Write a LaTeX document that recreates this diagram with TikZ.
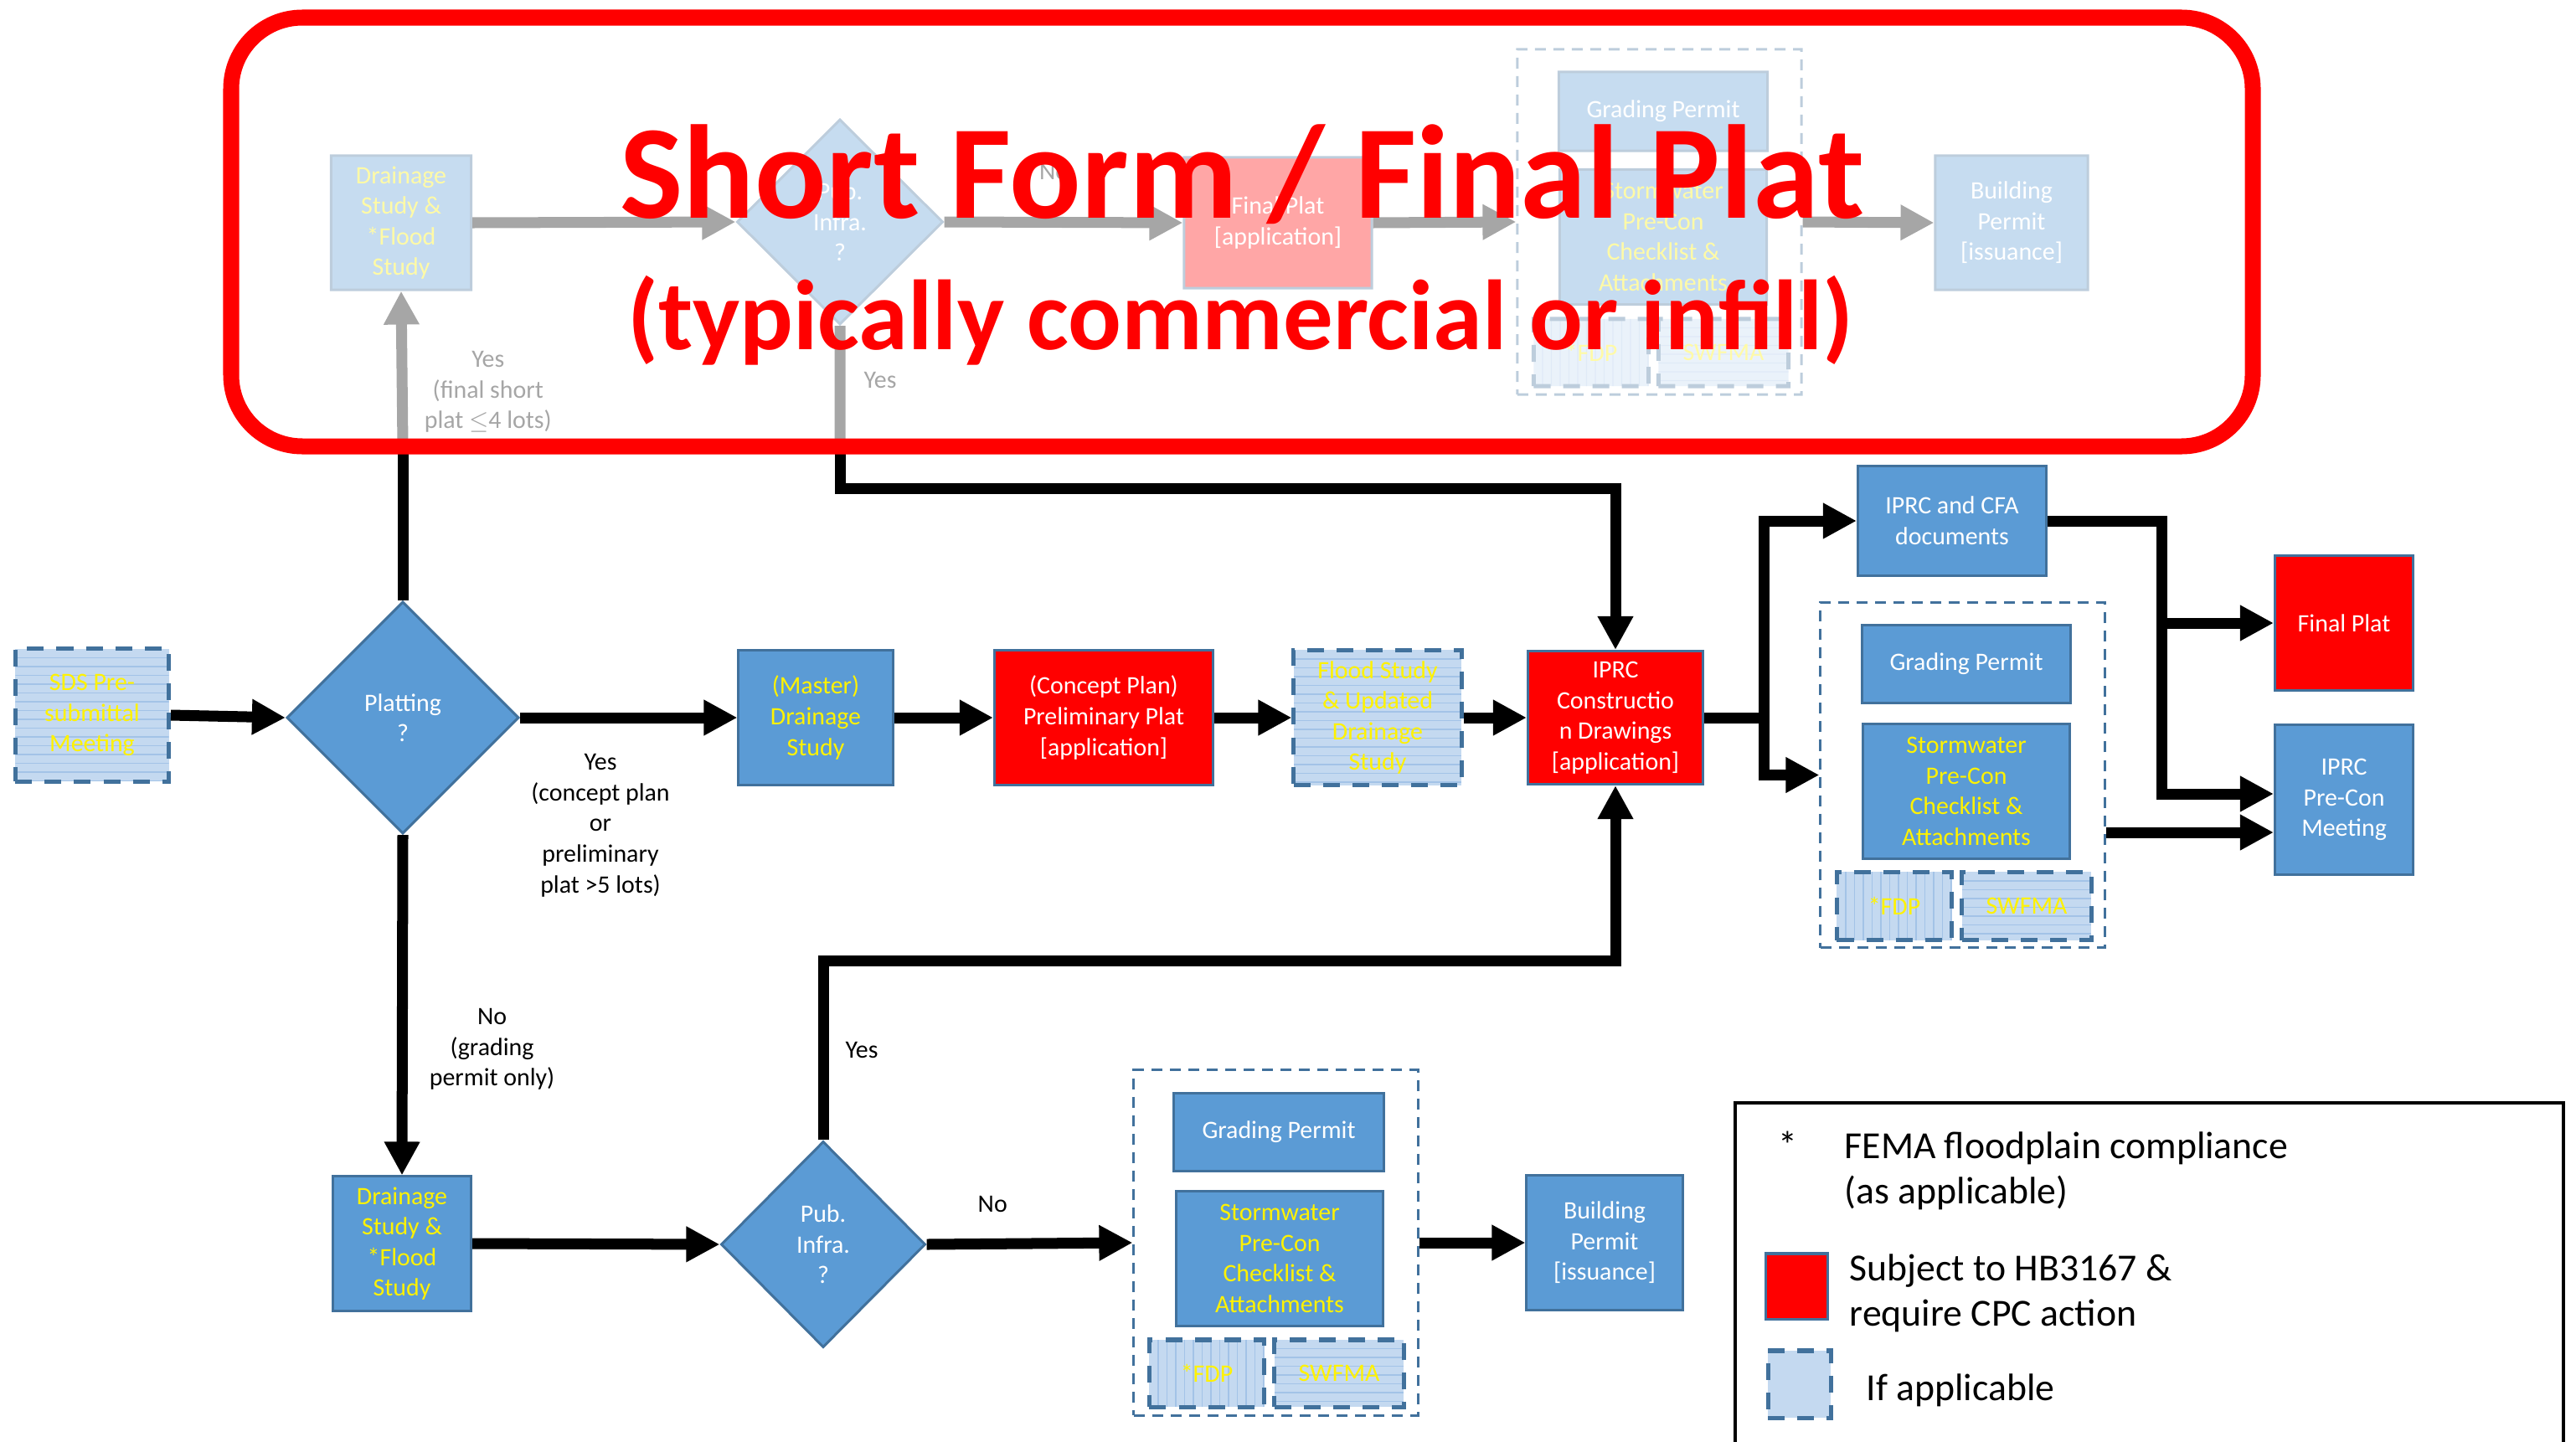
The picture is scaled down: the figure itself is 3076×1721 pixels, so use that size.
\documentclass[tikz,border=0pt]{standalone}
\usepackage{fontspec}
\setmainfont{Carlito}
\usepackage{tikz}
\usetikzlibrary{shapes.geometric, arrows.meta, positioning}

\definecolor{boxblue}{HTML}{5B9BD5}
\definecolor{boxedge}{HTML}{41719C}
\definecolor{optfill}{HTML}{C4D9F0}
\definecolor{optline}{HTML}{A3C3E7}

\newcommand{\flowfont}{\fontsize{8.5}{10.4}\selectfont}
\newcommand{\keyfont}{\fontsize{13}{15.4}\selectfont}
\newcommand{\bigtitlefont}{\fontsize{45.3}{50}\selectfont\bfseries}
\newcommand{\subtitlefont}{\fontsize{33.8}{38}\selectfont\bfseries}

\tikzset{
  flowbox/.style={rectangle, draw=boxedge, line width=0.03cm, fill=boxblue, text=white, align=center, inner sep=0pt, font=\flowfont},
  redbox/.style={flowbox, fill=red},
  ylw/.style={text=yellow},
  optbox/.style={flowbox, fill=optfill, text=yellow, line width=0.05cm, dash pattern=on 0.2cm off 0.15cm},
  hpat/.style={path picture={
    \foreach \k in {1,...,16}
      \draw[optline, solid, line width=0.012cm]
        ([yshift=-\k*0.105cm]path picture bounding box.north west) --
        ([yshift=-\k*0.105cm]path picture bounding box.north east);}},
  vpat/.style={path picture={
    \foreach \k in {1,...,15}
      \draw[optline, solid, line width=0.012cm]
        ([xshift=\k*0.105cm]path picture bounding box.north west) --
        ([xshift=\k*0.105cm]path picture bounding box.south west);}},
  decision/.style={diamond, aspect=1, draw=boxedge, line width=0.03cm, fill=boxblue, text=white, align=center, inner sep=0pt, font=\flowfont},
  permitgroup/.style={rectangle, draw=boxedge, line width=0.03cm, dash pattern=on 0.13cm off 0.09cm, minimum width=3.39cm, minimum height=4.12cm},
  trunk/.style={line width=0.13cm},
  conn/.style={trunk, -{Triangle[length=0.4cm, width=0.4cm]}},
  lbl/.style={font=\flowfont, align=center, inner sep=0pt}
}

\begin{document}
\begin{tikzpicture}[x=0.01cm, y=-0.01cm]
\useasboundingbox (0,0) rectangle (3076,1721);
\coordinate (frameS) at (0,533);

% long form, middle row
\node[optbox, hpat, minimum width=1.83cm, minimum height=1.58cm] (sds) at (110,854) {SDS Pre-\\submittal\\Meeting};
\node[decision, minimum width=2.77cm, minimum height=2.77cm] (platting) at (481,857) {Platting\\?};
\node[flowbox, ylw, minimum width=1.84cm, minimum height=1.6cm] (master) at (974,857) {(Master)\\Drainage\\Study};
\node[redbox, minimum width=2.61cm, minimum height=1.6cm] (concept) at (1318,857) {(Concept Plan)\\Preliminary Plat\\{}[application]};
\node[optbox, hpat, minimum width=2cm, minimum height=1.61cm] (flood) at (1645,857) {Flood Study\\\& Updated\\Drainage\\Study};
\node[redbox, minimum width=2.09cm, minimum height=1.59cm] (iprccd) at (1929,857) {IPRC\\Constructio\\n Drawings\\{}[application]};
\node[flowbox, minimum width=2.25cm, minimum height=1.31cm] (iprccfa) at (2331,622) {IPRC and CFA\\documents};
\node[permitgroup] (rgroup) at (2343.5,925.5) {};
\node[flowbox, minimum width=2.49cm, minimum height=0.92cm] (rgrade) at (2348,793) {Grading Permit};
\node[flowbox, ylw, minimum width=2.47cm, minimum height=1.6cm] (rstorm) at (2348,945) {Stormwater\\Pre-Con\\Checklist \&\\Attachments};
\node[optbox, vpat, minimum width=1.37cm, minimum height=0.81cm] (rfdp) at (2262,1082) {*FDP};
\node[optbox, hpat, minimum width=1.54cm, minimum height=0.81cm] (rswfma) at (2420,1082) {SWFMA};
\node[redbox, minimum width=1.65cm, minimum height=1.6cm] (finalplat) at (2799,744) {Final Plat};
\node[flowbox, minimum width=1.65cm, minimum height=1.78cm] (iprcpre) at (2799,955) {IPRC\\Pre-Con\\Meeting};

% grading permit only, bottom row
\node[flowbox, ylw, minimum width=1.65cm, minimum height=1.6cm] (drainb) at (480,1485) {Drainage\\Study \&\\*Flood\\Study};
\node[decision, minimum width=2.44cm, minimum height=2.46cm] (pubinfra) at (983,1486) {Pub.\\Infra.\\?};
\node[permitgroup] (bgroup) at (1523.5,1484) {};
\node[flowbox, minimum width=2.5cm, minimum height=0.93cm] (bgrade) at (1527,1352) {Grading Permit};
\node[flowbox, ylw, minimum width=2.47cm, minimum height=1.6cm] (bstorm) at (1528,1503) {Stormwater\\Pre-Con\\Checklist \&\\Attachments};
\node[optbox, vpat, minimum width=1.37cm, minimum height=0.8cm] (bfdp) at (1441,1640) {*FDP};
\node[optbox, hpat, minimum width=1.54cm, minimum height=0.8cm] (bswfma) at (1599,1640) {SWFMA};
\node[flowbox, minimum width=1.86cm, minimum height=1.6cm] (buildb) at (1916,1484) {Building\\Permit\\{}[issuance]};

% short form, greyed out
\begin{scope}[transparency group, opacity=0.35]
  \node[flowbox, ylw, minimum width=1.67cm, minimum height=1.6cm] (fdrain) at (479,266) {Drainage\\Study \&\\*Flood\\Study};
  \node[decision, minimum width=2.46cm, minimum height=2.45cm] (fpub) at (1003,265) {Pub.\\Infra.\\?};
  \node[redbox, minimum width=2.24cm, minimum height=1.56cm] (ffinal) at (1526,266) {Final Plat\\{}[application]};
  \node[permitgroup] (fgroup) at (1981.5,265) {};
  \node[flowbox, minimum width=2.49cm, minimum height=0.94cm] (fgrade) at (1986,133) {Grading Permit};
  \node[flowbox, ylw, minimum width=2.47cm, minimum height=1.61cm] (fstorm) at (1986,283) {Stormwater\\Pre-Con\\Checklist \&\\Attachments};
  \node[optbox, vpat, minimum width=1.37cm, minimum height=0.8cm] (ffdp) at (1900,421) {*FDP};
  \node[optbox, hpat, minimum width=1.55cm, minimum height=0.8cm] (fswfma) at (2058,421) {SWFMA};
  \node[flowbox, minimum width=1.82cm, minimum height=1.6cm] (fbuild) at (2402,266) {Building\\Permit\\{}[issuance]};
  \draw[conn] (fdrain.east) -- (fpub.west);
  \draw[conn] (fpub.east) -- node[lbl, above=0.44cm, pos=0.46] {No} (ffinal.west);
  \draw[conn] (ffinal.east) -- (fgroup.west);
  \draw[conn] (fgroup.east) -- (fbuild.west);
  \draw[conn] (platting.north |- frameS) -- node[lbl, right=0.2cm, pos=0.35] {Yes\\(final short\\plat $\le$4 lots)} (fdrain.south);
  \draw[trunk] (fpub.south) -- node[lbl, right=0.22cm, pos=0.45] {Yes} (fpub.south |- frameS);
\end{scope}

% connectors
\draw[conn] (sds.east) -- (platting.west);
\draw[conn] (platting.east) -- node[lbl, below=0.37cm, pos=0.37] {Yes\\(concept plan\\or\\preliminary\\plat >5 lots)} (master.west);
\draw[conn] (master.east) -- (concept.west);
\draw[conn] (concept.east) -- (flood.west);
\draw[conn] (flood.east) -- (iprccd.west);
\draw[trunk] (platting.north) -- (platting.north |- frameS);
\draw[conn] (fpub.south |- frameS) -- ++(0,50) -| (iprccd.north);
\draw[conn] (platting.south) -- node[lbl, right=0.26cm, pos=0.63] {No\\(grading\\permit only)} (drainb.north);
\draw[conn] (drainb.east) -- (pubinfra.west);
\draw[conn] (pubinfra.east) -- node[lbl, above=0.31cm, pos=0.32] {No} (bgroup.west);
\draw[conn] (bgroup.east) -- (buildb.west);
\draw[conn] (pubinfra.north) -- node[lbl, right=0.2cm] {Yes} ++(0,-214) -| (iprccd.south);

\draw[trunk] (iprccd.east) -- ++(71,0) coordinate (split1);
\draw[conn] (split1) |- (iprccfa.west);
\draw[conn] (split1) |- (rgroup.west);
\coordinate (preIn) at ([yshift=0.07cm]iprcpre.west);
\coordinate (preIn2) at ([yshift=-0.39cm]iprcpre.west);
\draw[conn] (iprccfa.east) -- ++(136,0) |- (finalplat.west);
\draw[conn] (iprccfa.east) -- ++(136,0) |- (preIn);
\draw[conn] (preIn2 -| rgroup.east) -- (preIn2);

% frame and heading
\draw[red, line width=0.19cm, rounded corners=0.85cm] (276,21) rectangle (2690,533);
\node[anchor=base, text=red, font=\bigtitlefont, inner sep=0pt] (title) at (1483,260) {Short Form / Final Plat};
\node[anchor=base, text=red, font=\subtitlefont, inner sep=0pt] (subtitle) at (1481,417) {(typically commercial or infill)};

% key
\node[draw, line width=0.04cm, minimum width=9.88cm, minimum height=4.3cm, anchor=north west, inner sep=0pt] (legend) at (2070,1315) {};
\node[anchor=base, font=\keyfont, inner sep=0pt] (star) at (2135,1383) {*};
\node[anchor=west, align=left, font=\keyfont, inner sep=0pt] (fema) at (2202,1398) {FEMA floodplain compliance\\(as applicable)};
\node[draw=boxedge, fill=red, line width=0.03cm, minimum width=0.74cm, minimum height=0.78cm, inner sep=0pt] (keyred) at (2145,1536) {};
\node[anchor=west, align=left, font=\keyfont, inner sep=0pt] (keyredtxt) at (2208,1544) {Subject to HB3167 \&\\require CPC action};
\node[optbox, minimum width=0.75cm, minimum height=0.8cm] (keyopt) at (2148.5,1653) {};
\node[anchor=west, font=\keyfont, inner sep=0pt] (keyopttxt) at (2228,1660) {If applicable};
\end{tikzpicture}
\end{document}
